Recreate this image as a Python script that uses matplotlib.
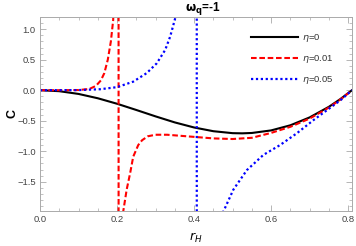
import numpy as np
import matplotlib.pyplot as plt
from matplotlib.ticker import MultipleLocator

# horizon radius r_H and heat capacity C
r_eta0 = [0.0, 0.05, 0.1, 0.15, 0.2, 0.25, 0.3, 0.35, 0.4, 0.45, 0.5, 0.525,
          0.55, 0.6, 0.65, 0.7, 0.75, 0.78, 0.81]
c_eta0 = [0.0, -0.016, -0.061, -0.132, -0.222, -0.324, -0.429, -0.528, -0.611,
          -0.672, -0.704, -0.707, -0.701, -0.659, -0.575, -0.446, -0.272, -0.144, 0.0]

r_eta001 = [0.0, 0.05, 0.1, 0.128, 0.145, 0.158, 0.167, 0.176, 0.184, 0.19, 0.197,
            0.203, 0.205, 0.212, 0.216, 0.225, 0.234, 0.242, 0.255, 0.265, 0.28,
            0.3, 0.33, 0.37, 0.41, 0.45, 0.5, 0.55, 0.6, 0.65, 0.7, 0.75, 0.78, 0.81]
c_eta001 = [0.0, 0.0, 0.003, 0.02, 0.07, 0.16, 0.28, 0.5, 0.8, 1.15, 3.0,
            40.0, -40.0, -3.0, -1.99, -1.63, -1.36, -1.09, -0.9, -0.82, -0.755,
            -0.73, -0.73, -0.75, -0.77, -0.79, -0.80, -0.78, -0.70, -0.60, -0.465, -0.285, -0.152, 0.0]

r_eta005 = [0.0, 0.1, 0.156, 0.2, 0.242, 0.277, 0.303, 0.325, 0.338, 0.351, 0.36,
            0.406, 0.408, 0.465, 0.476, 0.502, 0.537, 0.58, 0.623, 0.667, 0.71,
            0.753, 0.78, 0.81]
c_eta005 = [0.0, 0.002, 0.016, 0.05, 0.14, 0.28, 0.44, 0.66, 0.88, 1.18, 1.6,
            50.0, -50.0, -3.0, -1.99, -1.63, -1.31, -1.06, -0.9, -0.705, -0.49,
            -0.29, -0.165, 0.0]

labels = [r'$\eta$=0', r'$\eta$=0.01', r'$\eta$=0.05']

plt.rcParams['font.family'] = ['Liberation Sans', 'DejaVu Sans']
plt.rcParams['mathtext.fontset'] = 'dejavusans'

fig = plt.figure(figsize=(3.56, 2.46), dpi=100)
ax = fig.add_axes([40/356, 35/246, 312/356, 194/246])

ax.plot(r_eta0, c_eta0, color='black', lw=1.5, label=labels[0])
ax.plot(r_eta001, c_eta001, color='#ff0000', lw=1.5, dashes=(2.7, 1.3), label=labels[1])
ax.plot(r_eta005, c_eta005, color='#0000ff', lw=1.6, dashes=(1, 1.2), label=labels[2])

ax.set_xlim(0, 0.81)
ax.set_ylim(-1.98, 1.2)
ax.xaxis.set_major_locator(MultipleLocator(0.2))
ax.xaxis.set_minor_locator(MultipleLocator(0.05))
ax.yaxis.set_major_locator(MultipleLocator(0.5))
ax.yaxis.set_minor_locator(MultipleLocator(0.1))
ax.tick_params(which='both', direction='in', top=True, right=True,
               color='#aaaaaa', labelcolor='#444444', labelsize=6.8, pad=3)
ax.tick_params(which='major', length=4, width=0.6)
ax.tick_params(which='minor', length=2, width=0.5)
for s in ax.spines.values():
    s.set_color('#aaaaaa')
    s.set_linewidth(0.7)

# axis labels and title placed in figure pixels
fig.text(196/356, 1 - 238/246, r'$\mathbf{\mathit{r}_{\mathit{H}}}$', fontsize=9,
         ha='center', va='center')
fig.text(13/356, 1 - 114/246, 'C', fontsize=9, fontweight='bold', rotation=90,
         ha='center', va='center')
fig.text(203/356, 1 - 8/246, r'$\mathbf{\omega_q}$=-1', fontsize=8.5, fontweight='bold',
         ha='center', va='center')

leg = ax.legend(loc='upper right', bbox_to_anchor=(0.97, 0.965), frameon=False,
                fontsize=6.8, handlelength=5.0, handletextpad=0.5, labelspacing=0.95,
                labelcolor='#333333')

fig.savefig('out.png', dpi=100)
